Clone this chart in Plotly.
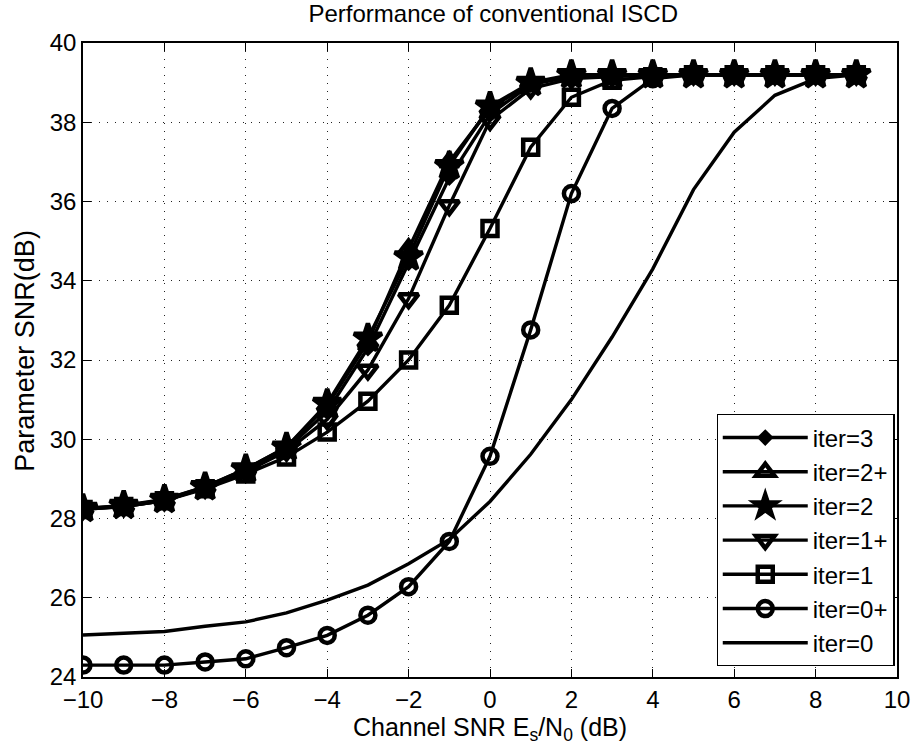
import plotly.graph_objects as go

x_snr = list(range(-10, 10))

iter3 = [28.25, 28.30, 28.45, 28.78, 29.20, 29.75, 30.70, 32.30, 34.45, 36.60, 38.20, 38.95, 39.15, 39.18, 39.20, 39.20, 39.20, 39.20, 39.20, 39.20]
iter2p = [28.25, 28.32, 28.47, 28.80, 29.25, 29.80, 30.85, 32.45, 34.80, 37.00, 38.35, 38.98, 39.15, 39.18, 39.20, 39.20, 39.20, 39.20, 39.20, 39.20]
iter2 = [28.25, 28.33, 28.48, 28.80, 29.25, 29.80, 30.90, 32.55, 34.60, 36.90, 38.40, 39.00, 39.20, 39.20, 39.20, 39.20, 39.20, 39.20, 39.20, 39.20]
iter1p = [28.23, 28.30, 28.45, 28.77, 29.18, 29.70, 30.50, 31.75, 33.55, 35.90, 38.05, 38.85, 39.10, 39.15, 39.20, 39.20, 39.20, 39.20, 39.20, 39.20]
iter1 = [28.23, 28.30, 28.45, 28.75, 29.12, 29.55, 30.18, 30.96, 32.00, 33.38, 35.32, 37.37, 38.63, 39.06, 39.15, 39.20, 39.20, 39.20, 39.20, 39.20]
iter0p = [24.30, 24.30, 24.30, 24.38, 24.46, 24.74, 25.05, 25.56, 26.28, 27.42, 29.57, 32.76, 36.20, 38.35, 39.10, 39.20, 39.20, 39.20, 39.20, 39.20]
iter0 = [25.06, 25.10, 25.15, 25.28, 25.39, 25.62, 25.94, 26.32, 26.86, 27.47, 28.43, 29.62, 31.00, 32.58, 34.30, 36.30, 37.75, 38.68, 39.10, 39.20]

series = [
    ("iter=3", iter3, "diamond", 8, "black"),
    ("iter=2+", iter2p, "triangle-up", 17, "rgba(0,0,0,0)"),
    ("iter=2", iter2, "star", 21, "black"),
    ("iter=1+", iter1p, "triangle-down", 17, "rgba(0,0,0,0)"),
    ("iter=1", iter1, "square", 15, "rgba(0,0,0,0)"),
    ("iter=0+", iter0p, "circle", 15, "rgba(0,0,0,0)"),
    ("iter=0", iter0, None, 0, None),
]

fig = go.Figure()
for i, (name, ys, sym, sz, fill) in enumerate(series):
    if sym is None:
        fig.add_trace(go.Scatter(x=x_snr, y=ys, name=name, mode="lines",
                                 legendgroup=f"g{i}",
                                 line=dict(color="black", width=3.4)))
    else:
        fig.add_trace(go.Scatter(x=x_snr, y=ys, name=name, mode="lines+markers",
                                 legendgroup=f"g{i}",
                                 line=dict(color="black", width=3.4),
                                 marker=dict(symbol=sym, size=sz, color=fill,
                                             line=dict(color="black", width=4.5))))

axis_common = dict(
    showline=True, linecolor="black", linewidth=1.5, mirror="ticks",
    ticks="inside", ticklen=8, tickwidth=1, tickcolor="black",
    showgrid=True, gridcolor="#222222", griddash="1px,7px", gridwidth=1,
    zeroline=False, tickfont=dict(size=24, color="black"),
)

fig.update_layout(
    width=922, height=754,
    margin=dict(l=83, r=20, t=43, b=77),
    paper_bgcolor="white", plot_bgcolor="white",
    font=dict(family="Liberation Sans, Arial, sans-serif", color="black"),
    title=dict(text="Performance of conventional ISCD", x=0.535, xanchor="center",
               y=0.982, yanchor="middle", font=dict(size=24, color="black")),
    xaxis=dict(range=[-10, 10], tickvals=list(range(-10, 11, 2)),
               ticktext=["\u221210", "\u22128", "\u22126", "\u22124", "\u22122", "0", "2", "4", "6", "8", "10"],
               title=dict(text="Channel SNR E<sub>s</sub>/N<sub>0</sub> (dB)", font=dict(size=25), standoff=2),
               **axis_common),
    yaxis=dict(range=[24, 40], tickvals=list(range(24, 41, 2)), **axis_common),
    annotations=[dict(text="Parameter SNR(dB)", xref="paper", yref="paper",
                      x=-0.071, y=0.515, xanchor="center", yanchor="middle",
                      textangle=-90, showarrow=False, font=dict(size=27, color="black"))],
    legend=dict(x=0.997, xanchor="right", y=0.017, yanchor="bottom",
                bgcolor="white", bordercolor="black", borderwidth=1.2,
                font=dict(size=24, color="black"), itemwidth=85,
                tracegroupgap=0),
    showlegend=True,
)

fig.write_html("out.html")
